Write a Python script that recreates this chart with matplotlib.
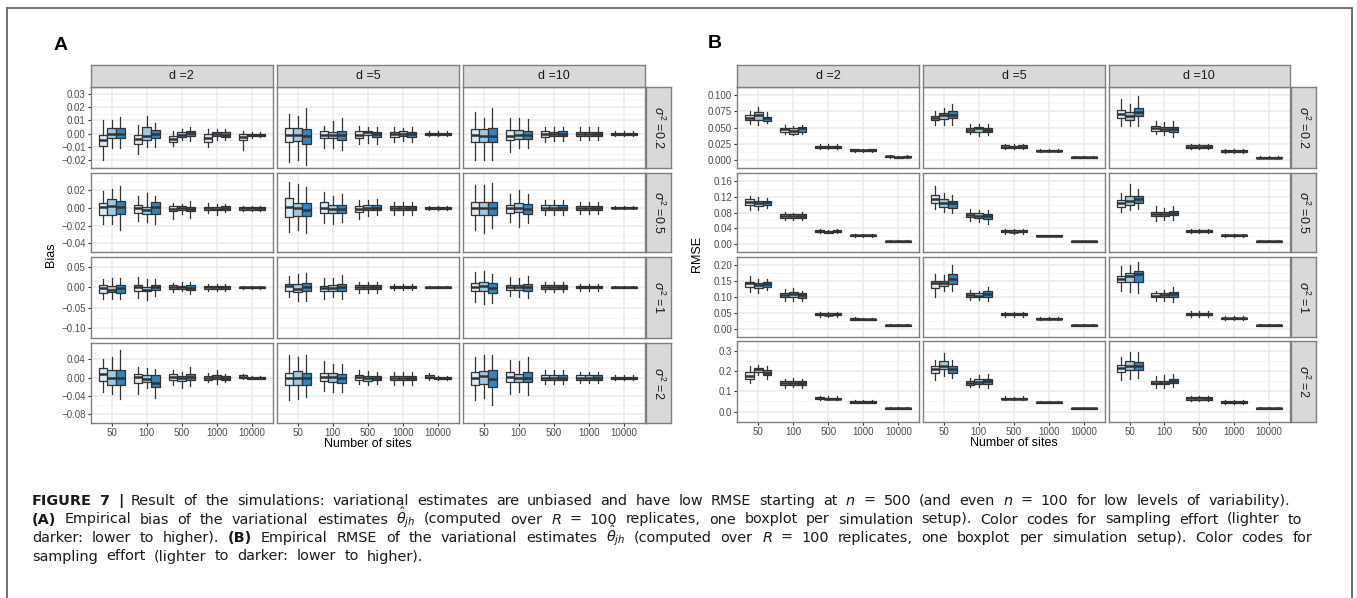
import matplotlib
matplotlib.use("Agg")
import matplotlib.pyplot as plt
from matplotlib.patches import Rectangle
from matplotlib.ticker import FuncFormatter

plt.rcParams['font.family'] = ['Liberation Sans', 'DejaVu Sans']
plt.rcParams['mathtext.fontset'] = 'custom'
plt.rcParams['mathtext.rm'] = 'Liberation Sans'
plt.rcParams['mathtext.it'] = 'Liberation Sans:italic'
plt.rcParams['mathtext.bf'] = 'Liberation Sans:bold'

# ---------------- data ----------------
sites = ['50', '100', '500', '1000', '10000']
dims = ['d =2', 'd =5', 'd =10']
sigmas = [r'$\sigma^2$ =0.2', r'$\sigma^2$ =0.5', r'$\sigma^2$ =1', r'$\sigma^2$ =2']
effort_colors = ['#deebf7', '#9ecae1', '#3182bd']

# each box: (lower whisker, q1, median, q3, upper whisker)
# bias_sX[d][n] -> 3 boxes (sampling effort low -> high)
bias_s02 = [
    [[(-0.020, -0.0093, -0.0047, -0.001, 0.010), (-0.011, -0.0034, -0.0005, 0.0044, 0.010), (-0.0105, -0.003, 0.0, 0.004, 0.0125)],
     [(-0.015, -0.0076, -0.004, -0.001, 0.0066), (-0.010, -0.005, -0.002, 0.005, 0.013), (-0.010, -0.003, 0.0, 0.003, 0.0083)],
     [(-0.0095, -0.006, -0.004, -0.0015, 0.002), (-0.005, -0.0022, -0.001, 0.001, 0.0034), (-0.0056, -0.0017, 0.0005, 0.0022, 0.0047)],
     [(-0.010, -0.0064, -0.003, 0.0, 0.0034), (-0.005, -0.0017, -0.0003, 0.0012, 0.0032), (-0.005, -0.0022, -0.0007, 0.001, 0.0032)],
     [(-0.012, -0.005, -0.0027, -0.0002, 0.0017), (-0.0032, -0.002, -0.001, 0.0, 0.0012), (-0.0027, -0.002, -0.0008, 0.0, 0.0012)]],
    [[(-0.021, -0.0064, -0.001, 0.004, 0.015), (-0.020, -0.0052, -0.0008, 0.004, 0.013), (-0.0235, -0.008, -0.0015, 0.0034, 0.019)],
     [(-0.0105, -0.003, -0.0007, 0.0017, 0.006), (-0.0105, -0.003, -0.001, 0.0015, 0.0095), (-0.0125, -0.005, -0.001, 0.0022, 0.012)],
     [(-0.008, -0.0032, -0.0007, 0.0017, 0.006), (-0.007, -0.0007, 0.001, 0.0022, 0.0054), (-0.0075, -0.0027, -0.0002, 0.0015, 0.0054)],
     [(-0.006, -0.0022, -0.0005, 0.0015, 0.0047), (-0.0055, -0.002, -0.0003, 0.0017, 0.0045), (-0.0062, -0.0024, -0.0005, 0.0015, 0.0047)],
     [(-0.0017, -0.0007, 0.0, 0.0007, 0.0017), (-0.0017, -0.0007, 0.0, 0.0007, 0.0017), (-0.0017, -0.0007, 0.0, 0.0007, 0.0017)]],
    [[(-0.0194, -0.0064, -0.0007, 0.0034, 0.016), (-0.020, -0.0064, -0.002, 0.0034, 0.012), (-0.0194, -0.0064, -0.0015, 0.0042, 0.019)],
     [(-0.0137, -0.0044, -0.0015, 0.003, 0.0115), (-0.0105, -0.004, -0.0007, 0.003, 0.012), (-0.0105, -0.004, -0.0007, 0.0022, 0.011)],
     [(-0.0064, -0.0022, 0.0, 0.0022, 0.0047), (-0.0052, -0.0015, 0.0, 0.0015, 0.0047), (-0.0052, -0.0015, 0.0, 0.0017, 0.0047)],
     [(-0.005, -0.0015, 0.0, 0.0015, 0.0047), (-0.005, -0.0015, 0.0, 0.0015, 0.0047), (-0.005, -0.0015, 0.0, 0.0015, 0.0047)],
     [(-0.0017, -0.0007, 0.0, 0.0007, 0.0017), (-0.0017, -0.0007, 0.0, 0.0007, 0.0017), (-0.0017, -0.0007, 0.0, 0.0007, 0.0017)]],
]
bias_s05 = [
    [[(-0.018, -0.0075, 0.0014, 0.0058, 0.019), (-0.018, -0.0078, 0.002, 0.0098, 0.021), (-0.0247, -0.0064, 0.0014, 0.0075, 0.025)],
     [(-0.015, -0.006, -0.0007, 0.003, 0.013), (-0.0156, -0.0071, -0.002, 0.0014, 0.0166), (-0.018, -0.0064, 0.0014, 0.0064, 0.013)],
     [(-0.012, -0.0037, -0.001, 0.002, 0.0058), (-0.007, -0.002, 0.0003, 0.002, 0.004), (-0.011, -0.0037, -0.001, 0.0014, 0.0075)],
     [(-0.0054, -0.0027, -0.0007, 0.0014, 0.0054), (-0.008, -0.003, -0.001, 0.001, 0.004), (-0.0047, -0.0027, -0.0003, 0.002, 0.0047)],
     [(-0.0037, -0.002, -0.0007, 0.0007, 0.0024), (-0.0037, -0.002, -0.0007, 0.0007, 0.0024), (-0.0037, -0.002, -0.0007, 0.0007, 0.0024)]],
    [[(-0.0275, -0.010, 0.001, 0.011, 0.0285), (-0.025, -0.0095, 0.0, 0.0054, 0.027), (-0.0285, -0.0095, -0.0027, 0.0054, 0.0234)],
     [(-0.0173, -0.0054, 0.0, 0.0064, 0.0176), (-0.018, -0.006, -0.0017, 0.0037, 0.013), (-0.016, -0.0054, -0.001, 0.003, 0.0156)],
     [(-0.0125, -0.005, -0.0017, 0.002, 0.0085), (-0.009, -0.0024, 0.0003, 0.0027, 0.0085), (-0.0075, -0.003, 0.0003, 0.0027, 0.0095)],
     [(-0.0075, -0.0024, 0.0, 0.002, 0.007), (-0.0075, -0.0024, 0.0, 0.002, 0.007), (-0.0075, -0.0024, 0.0, 0.002, 0.007)],
     [(-0.0024, -0.001, 0.0, 0.001, 0.0024), (-0.0024, -0.001, 0.0, 0.001, 0.0024), (-0.0024, -0.001, 0.0, 0.001, 0.0024)]],
    [[(-0.0244, -0.0075, -0.0007, 0.006, 0.026), (-0.0278, -0.0075, -0.0007, 0.006, 0.026), (-0.0227, -0.0075, -0.0007, 0.007, 0.0275)],
     [(-0.016, -0.0058, -0.0007, 0.0034, 0.016), (-0.022, -0.005, 0.0003, 0.005, 0.0203), (-0.0176, -0.0064, -0.0017, 0.0044, 0.016)],
     [(-0.0085, -0.003, 0.0, 0.0027, 0.0085), (-0.0085, -0.003, 0.0, 0.0027, 0.0085), (-0.0085, -0.003, 0.0, 0.0027, 0.0085)],
     [(-0.0064, -0.0024, 0.0, 0.002, 0.007), (-0.0064, -0.0024, 0.0, 0.002, 0.007), (-0.0064, -0.0024, 0.0, 0.002, 0.007)],
     [(-0.0017, -0.0007, 0.0, 0.0007, 0.002), (-0.0017, -0.0007, 0.0, 0.0007, 0.002), (-0.0017, -0.0007, 0.0, 0.0007, 0.002)]],
]
bias_s1 = [
    [[(-0.028, -0.013, -0.0014, 0.0064, 0.0207), (-0.028, -0.0114, -0.0057, 0.0043, 0.024), (-0.028, -0.013, -0.0021, 0.0064, 0.024)],
     [(-0.0257, -0.010, 0.0007, 0.0064, 0.0257), (-0.0307, -0.010, -0.0057, 0.0007, 0.020), (-0.022, -0.0064, 0.0007, 0.005, 0.0207)],
     [(-0.0114, -0.0043, 0.0007, 0.005, 0.010), (-0.010, -0.0043, 0.0, 0.0043, 0.012), (-0.0164, -0.0057, -0.0007, 0.005, 0.0136)],
     [(-0.009, -0.0043, 0.0, 0.0036, 0.0086), (-0.009, -0.0043, 0.0, 0.0036, 0.0086), (-0.009, -0.0043, 0.0, 0.0036, 0.0086)],
     [(-0.003, -0.0014, 0.0, 0.0014, 0.0029), (-0.003, -0.0014, 0.0, 0.0014, 0.0029), (-0.003, -0.0014, 0.0, 0.0014, 0.0029)]],
    [[(-0.024, -0.010, 0.0029, 0.0086, 0.027), (-0.034, -0.0114, -0.0043, 0.0079, 0.0336), (-0.033, -0.0093, 0.0014, 0.0114, 0.035)],
     [(-0.029, -0.0093, -0.0029, 0.0043, 0.024), (-0.024, -0.0079, -0.0007, 0.0064, 0.023), (-0.029, -0.0079, 0.0014, 0.0079, 0.031)],
     [(-0.0129, -0.0043, 0.0, 0.0064, 0.0136), (-0.0129, -0.0043, 0.0, 0.0064, 0.0136), (-0.0129, -0.0043, 0.0, 0.0064, 0.0136)],
     [(-0.0064, -0.0029, 0.0, 0.0036, 0.0079), (-0.0064, -0.0029, 0.0, 0.0036, 0.0079), (-0.0064, -0.0029, 0.0, 0.0036, 0.0079)],
     [(-0.0029, -0.0014, 0.0, 0.0014, 0.0029), (-0.0029, -0.0014, 0.0, 0.0014, 0.0029), (-0.0029, -0.0014, 0.0, 0.0014, 0.0029)]],
    [[(-0.036, -0.010, 0.0007, 0.0114, 0.0386), (-0.040, -0.0079, 0.0043, 0.0136, 0.041), (-0.038, -0.015, -0.0029, 0.010, 0.0336)],
     [(-0.0207, -0.0064, 0.0007, 0.0064, 0.0257), (-0.0236, -0.0064, 0.0014, 0.0064, 0.024), (-0.0257, -0.0079, 0.0007, 0.0079, 0.028)],
     [(-0.0114, -0.0043, 0.0, 0.0057, 0.0136), (-0.0114, -0.0043, 0.0, 0.0057, 0.0136), (-0.0114, -0.0043, 0.0, 0.0057, 0.0136)],
     [(-0.0079, -0.0029, 0.0, 0.0043, 0.0086), (-0.0079, -0.0029, 0.0, 0.0043, 0.0086), (-0.0079, -0.0029, 0.0, 0.0043, 0.0086)],
     [(-0.0021, -0.0007, 0.0, 0.0014, 0.0029), (-0.0021, -0.0007, 0.0, 0.0014, 0.0029), (-0.0021, -0.0007, 0.0, 0.0014, 0.0029)]],
]
bias_s2 = [
    [[(-0.0316, -0.0077, 0.0071, 0.020, 0.0406), (-0.035, -0.0155, -0.0006, 0.0168, 0.0458), (-0.0465, -0.0168, -0.0006, 0.0155, 0.0606)],
     [(-0.036, -0.0123, 0.0006, 0.0071, 0.022), (-0.023, -0.0103, -0.0026, 0.005, 0.020), (-0.0445, -0.0206, -0.011, 0.005, 0.018)],
     [(-0.0155, -0.0045, 0.002, 0.0071, 0.0155), (-0.022, -0.0077, -0.0013, 0.0039, 0.013), (-0.0187, -0.0058, 0.0006, 0.0071, 0.023)],
     [(-0.009, -0.0045, 0.0, 0.0039, 0.0103), (-0.014, -0.0039, 0.0006, 0.0052, 0.0155), (-0.0103, -0.0052, -0.0013, 0.0032, 0.0084)],
     [(-0.0032, -0.0013, 0.002, 0.0045, 0.0071), (-0.0039, -0.0026, -0.0006, 0.0013, 0.0026), (-0.0039, -0.0026, -0.0006, 0.0013, 0.0026)]],
    [[(-0.050, -0.0174, -0.0006, 0.009, 0.049), (-0.0465, -0.0155, 0.0, 0.0142, 0.0458), (-0.0426, -0.0155, -0.0006, 0.0103, 0.049)],
     [(-0.0284, -0.0077, 0.002, 0.009, 0.036), (-0.0316, -0.009, 0.0006, 0.0103, 0.0284), (-0.0316, -0.011, -0.0013, 0.0084, 0.030)],
     [(-0.0142, -0.0058, 0.0006, 0.0052, 0.0155), (-0.0155, -0.0071, -0.0006, 0.0039, 0.0135), (-0.0142, -0.0058, 0.0, 0.0039, 0.0116)],
     [(-0.0155, -0.0058, 0.0, 0.0039, 0.0116), (-0.0155, -0.0058, 0.0, 0.0039, 0.0116), (-0.0155, -0.0058, 0.0, 0.0039, 0.0116)],
     [(-0.0045, -0.0013, 0.002, 0.0052, 0.0103), (-0.0045, -0.0026, -0.0006, 0.0019, 0.0039), (-0.0045, -0.0026, -0.0006, 0.0019, 0.0039)]],
    [[(-0.049, -0.0155, -0.0006, 0.0116, 0.044), (-0.0445, -0.0142, 0.0026, 0.0148, 0.050), (-0.059, -0.0206, -0.0026, 0.0155, 0.050)],
     [(-0.0368, -0.0103, 0.0006, 0.0116, 0.0374), (-0.0316, -0.009, -0.0013, 0.0084, 0.036), (-0.038, -0.0103, -0.0013, 0.0116, 0.044)],
     [(-0.0142, -0.0058, 0.0, 0.0058, 0.0168), (-0.0142, -0.0058, 0.0, 0.0058, 0.0168), (-0.0142, -0.0058, 0.0, 0.0058, 0.0168)],
     [(-0.011, -0.0045, 0.0, 0.0045, 0.013), (-0.011, -0.0045, 0.0, 0.0045, 0.013), (-0.011, -0.0045, 0.0, 0.0045, 0.013)],
     [(-0.0052, -0.0026, -0.0006, 0.0019, 0.0052), (-0.0052, -0.0026, -0.0006, 0.0019, 0.0052), (-0.0052, -0.0026, -0.0006, 0.0019, 0.0052)]],
]

rmse_s02 = [
    [[(0.0558, 0.0625, 0.0656, 0.0688, 0.0754), (0.0545, 0.0625, 0.0688, 0.0746, 0.082), (0.0576, 0.0607, 0.0647, 0.067, 0.0746)],
     [(0.041, 0.0433, 0.0473, 0.050, 0.0536), (0.0384, 0.041, 0.0446, 0.049, 0.052), (0.040, 0.0433, 0.0487, 0.051, 0.0536)],
     [(0.0174, 0.0188, 0.0205, 0.0223, 0.0246), (0.0174, 0.0188, 0.0202, 0.0220, 0.0242), (0.0174, 0.0188, 0.0205, 0.0223, 0.0246)],
     [(0.0129, 0.0143, 0.0152, 0.0165, 0.0174), (0.0129, 0.0143, 0.0150, 0.0163, 0.0174), (0.0129, 0.0143, 0.0152, 0.0165, 0.0174)],
     [(0.004, 0.0045, 0.0058, 0.0071, 0.0085), (0.0031, 0.004, 0.0045, 0.0054, 0.0063), (0.0031, 0.0045, 0.0054, 0.0067, 0.0085)]],
    [[(0.0545, 0.062, 0.065, 0.0679, 0.0754), (0.0536, 0.0634, 0.0688, 0.0723, 0.080), (0.0536, 0.0643, 0.0701, 0.0759, 0.0866)],
     [(0.0397, 0.0429, 0.0464, 0.050, 0.0554), (0.0366, 0.0438, 0.0487, 0.051, 0.0563), (0.039, 0.0429, 0.0464, 0.050, 0.0554)],
     [(0.0165, 0.0188, 0.0210, 0.0232, 0.0254), (0.0165, 0.0185, 0.0200, 0.0222, 0.0245), (0.0165, 0.0188, 0.0210, 0.0232, 0.0254)],
     [(0.0125, 0.0138, 0.0147, 0.0156, 0.0169), (0.0125, 0.0138, 0.0147, 0.0156, 0.0169), (0.0125, 0.0138, 0.0147, 0.0156, 0.0169)],
     [(0.0027, 0.0034, 0.0042, 0.0050, 0.0058), (0.0027, 0.0034, 0.0042, 0.0050, 0.0058), (0.0027, 0.0034, 0.0042, 0.0050, 0.0058)]],
    [[(0.0522, 0.0656, 0.0714, 0.0777, 0.0946), (0.0522, 0.0625, 0.0679, 0.0746, 0.0866), (0.0522, 0.0679, 0.0746, 0.0804, 0.099)],
     [(0.0397, 0.0455, 0.0491, 0.0522, 0.0598), (0.038, 0.0446, 0.0478, 0.0509, 0.0589), (0.0357, 0.0433, 0.0478, 0.0509, 0.0598)],
     [(0.0165, 0.0188, 0.021, 0.0232, 0.0254), (0.0165, 0.0188, 0.021, 0.0232, 0.0254), (0.0165, 0.0188, 0.021, 0.0232, 0.0254)],
     [(0.0116, 0.013, 0.0143, 0.0152, 0.0165), (0.0116, 0.013, 0.0143, 0.0152, 0.0165), (0.0116, 0.013, 0.0143, 0.0152, 0.0165)],
     [(0.0027, 0.0031, 0.004, 0.0054, 0.0058), (0.0027, 0.0031, 0.004, 0.0054, 0.0058), (0.0027, 0.0031, 0.004, 0.0054, 0.0058)]],
]
rmse_s05 = [
    [[(0.0857, 0.0993, 0.106, 0.113, 0.121), (0.0857, 0.096, 0.1027, 0.1095, 0.1177), (0.0905, 0.0993, 0.106, 0.1095, 0.1163)],
     [(0.062, 0.0673, 0.0721, 0.0769, 0.081), (0.060, 0.0660, 0.0700, 0.0750, 0.080), (0.062, 0.0673, 0.0721, 0.0769, 0.081)],
     [(0.0279, 0.030, 0.0327, 0.0354, 0.0381), (0.0279, 0.029, 0.0310, 0.0340, 0.0370), (0.0279, 0.030, 0.0327, 0.0354, 0.0381)],
     [(0.019, 0.0204, 0.0224, 0.0245, 0.0259), (0.019, 0.0204, 0.0224, 0.0245, 0.0259), (0.019, 0.0204, 0.0224, 0.0245, 0.0259)],
     [(0.0048, 0.0061, 0.0075, 0.0088, 0.0102), (0.0048, 0.0061, 0.0075, 0.0088, 0.0102), (0.0048, 0.0061, 0.0075, 0.0088, 0.0102)]],
    [[(0.089, 0.1027, 0.114, 0.123, 0.1456), (0.0823, 0.0939, 0.1048, 0.113, 0.128), (0.079, 0.0925, 0.1027, 0.1095, 0.125)],
     [(0.0585, 0.0687, 0.0748, 0.080, 0.089), (0.055, 0.0667, 0.072, 0.079, 0.0857), (0.0517, 0.064, 0.070, 0.0755, 0.0857)],
     [(0.0265, 0.030, 0.0327, 0.0367, 0.0394), (0.0265, 0.030, 0.0320, 0.0350, 0.0380), (0.0265, 0.030, 0.0327, 0.0367, 0.0394)],
     [(0.0197, 0.0211, 0.0218, 0.0231, 0.0245), (0.0197, 0.0211, 0.0218, 0.0231, 0.0245), (0.0197, 0.0211, 0.0218, 0.0231, 0.0245)],
     [(0.0061, 0.0068, 0.0075, 0.0082, 0.0088), (0.0061, 0.0068, 0.0075, 0.0082, 0.0088), (0.0061, 0.0068, 0.0075, 0.0082, 0.0088)]],
    [[(0.0803, 0.0946, 0.1027, 0.1116, 0.130), (0.087, 0.0993, 0.1095, 0.121, 0.1524), (0.089, 0.1027, 0.113, 0.121, 0.1388)],
     [(0.0585, 0.0707, 0.0755, 0.0803, 0.0959), (0.0605, 0.0707, 0.0755, 0.0803, 0.0925), (0.0619, 0.0735, 0.079, 0.0844, 0.0959)],
     [(0.0286, 0.0313, 0.034, 0.0367, 0.0394), (0.0286, 0.0313, 0.034, 0.0367, 0.0394), (0.0286, 0.0313, 0.034, 0.0367, 0.0394)],
     [(0.0184, 0.0204, 0.0224, 0.0245, 0.0272), (0.0184, 0.0204, 0.0224, 0.0245, 0.0272), (0.0184, 0.0204, 0.0224, 0.0245, 0.0272)],
     [(0.0054, 0.0068, 0.0082, 0.0095, 0.0109), (0.0054, 0.0068, 0.0082, 0.0095, 0.0109), (0.0054, 0.0068, 0.0082, 0.0095, 0.0109)]],
]
rmse_s1 = [
    [[(0.116, 0.132, 0.143, 0.148, 0.166), (0.111, 0.129, 0.136, 0.144, 0.156), (0.121, 0.132, 0.141, 0.1455, 0.156)],
     [(0.0864, 0.100, 0.1064, 0.111, 0.1245), (0.0864, 0.100, 0.109, 0.1155, 0.129), (0.089, 0.098, 0.1064, 0.112, 0.118)],
     [(0.0391, 0.0427, 0.0464, 0.050, 0.0545), (0.0391, 0.0427, 0.0455, 0.049, 0.0535), (0.0391, 0.0427, 0.0464, 0.050, 0.0545)],
     [(0.0273, 0.029, 0.0318, 0.0345, 0.0382), (0.0273, 0.029, 0.0310, 0.0330, 0.0360), (0.0273, 0.029, 0.0310, 0.0330, 0.0360)],
     [(0.0091, 0.0109, 0.0118, 0.0136, 0.0155), (0.0091, 0.0109, 0.0118, 0.0136, 0.0155), (0.0091, 0.0109, 0.0118, 0.0136, 0.0155)]],
    [[(0.100, 0.129, 0.1427, 0.150, 0.170), (0.118, 0.1345, 0.1427, 0.150, 0.168), (0.118, 0.141, 0.156, 0.1727, 0.200)],
     [(0.0909, 0.100, 0.1064, 0.111, 0.1227), (0.0909, 0.100, 0.1045, 0.111, 0.118), (0.0864, 0.100, 0.109, 0.118, 0.132)],
     [(0.0382, 0.0427, 0.0464, 0.050, 0.0545), (0.0382, 0.0427, 0.0464, 0.050, 0.0545), (0.0382, 0.0427, 0.0464, 0.050, 0.0545)],
     [(0.0282, 0.0309, 0.0318, 0.0364, 0.039), (0.0282, 0.0309, 0.0318, 0.0364, 0.039), (0.0282, 0.0309, 0.0318, 0.0364, 0.039)],
     [(0.0100, 0.0109, 0.0127, 0.0145, 0.0155), (0.0100, 0.0109, 0.0127, 0.0145, 0.0155), (0.0100, 0.0109, 0.0127, 0.0145, 0.0155)]],
    [[(0.12, 0.1455, 0.156, 0.1636, 0.1955), (0.1155, 0.1455, 0.1655, 0.1745, 0.200), (0.111, 0.148, 0.171, 0.180, 0.209)],
     [(0.0864, 0.100, 0.1045, 0.111, 0.120), (0.0891, 0.100, 0.1064, 0.1118, 0.1227), (0.0836, 0.100, 0.109, 0.1164, 0.132)],
     [(0.0382, 0.0436, 0.048, 0.0518, 0.0564), (0.0382, 0.0436, 0.048, 0.0518, 0.0564), (0.0382, 0.0436, 0.048, 0.0518, 0.0564)],
     [(0.0273, 0.0309, 0.0336, 0.0364, 0.04), (0.0273, 0.0309, 0.0336, 0.0364, 0.04), (0.0273, 0.0309, 0.0336, 0.0364, 0.04)],
     [(0.0091, 0.0109, 0.0127, 0.0136, 0.0155), (0.0091, 0.0109, 0.0127, 0.0136, 0.0155), (0.0091, 0.0109, 0.0127, 0.0136, 0.0155)]],
]
rmse_s2 = [
    [[(0.14, 0.16, 0.1766, 0.196, 0.227), (0.179, 0.196, 0.208, 0.214, 0.231), (0.162, 0.179, 0.192, 0.205, 0.225)],
     [(0.114, 0.131, 0.140, 0.149, 0.16), (0.12, 0.131, 0.140, 0.149, 0.166), (0.117, 0.131, 0.140, 0.149, 0.16)],
     [(0.056, 0.061, 0.066, 0.071, 0.077), (0.056, 0.060, 0.064, 0.069, 0.075), (0.056, 0.060, 0.064, 0.069, 0.075)],
     [(0.04, 0.044, 0.048, 0.052, 0.056), (0.04, 0.044, 0.047, 0.051, 0.055), (0.04, 0.044, 0.048, 0.052, 0.056)],
     [(0.0104, 0.013, 0.0156, 0.018, 0.0208), (0.0104, 0.013, 0.0156, 0.018, 0.0208), (0.0104, 0.013, 0.0156, 0.018, 0.0208)]],
    [[(0.157, 0.192, 0.208, 0.225, 0.253), (0.175, 0.212, 0.227, 0.248, 0.29), (0.166, 0.192, 0.209, 0.225, 0.253)],
     [(0.121, 0.131, 0.140, 0.149, 0.166), (0.121, 0.136, 0.1468, 0.16, 0.179), (0.114, 0.134, 0.149, 0.16, 0.186)],
     [(0.056, 0.06, 0.064, 0.068, 0.075), (0.056, 0.06, 0.063, 0.067, 0.073), (0.056, 0.06, 0.064, 0.068, 0.075)],
     [(0.04, 0.043, 0.046, 0.049, 0.052), (0.04, 0.043, 0.046, 0.049, 0.052), (0.04, 0.043, 0.046, 0.049, 0.052)],
     [(0.0117, 0.0143, 0.0156, 0.0182, 0.0195), (0.0117, 0.0143, 0.0156, 0.0182, 0.0195), (0.0117, 0.0143, 0.0156, 0.0182, 0.0195)]],
    [[(0.157, 0.196, 0.214, 0.231, 0.27), (0.162, 0.205, 0.227, 0.248, 0.296), (0.166, 0.205, 0.225, 0.244, 0.296)],
     [(0.118, 0.134, 0.143, 0.153, 0.177), (0.114, 0.134, 0.143, 0.153, 0.179), (0.123, 0.14, 0.149, 0.16, 0.186)],
     [(0.052, 0.058, 0.065, 0.071, 0.078), (0.052, 0.058, 0.065, 0.071, 0.078), (0.052, 0.058, 0.065, 0.071, 0.078)],
     [(0.036, 0.0416, 0.047, 0.052, 0.056), (0.036, 0.0416, 0.047, 0.052, 0.056), (0.036, 0.0416, 0.047, 0.052, 0.056)],
     [(0.0117, 0.0143, 0.0169, 0.0182, 0.0221), (0.0117, 0.0143, 0.0169, 0.0182, 0.0221), (0.0117, 0.0143, 0.0169, 0.0182, 0.0221)]],
]

bias_rows = [bias_s02, bias_s05, bias_s1, bias_s2]
rmse_rows = [rmse_s02, rmse_s05, rmse_s1, rmse_s2]

bias_ticks = [[-0.02, -0.01, 0.0, 0.01, 0.02, 0.03], [-0.04, -0.02, 0.0, 0.02],
              [-0.10, -0.05, 0.0, 0.05], [-0.08, -0.04, 0.0, 0.04]]
bias_lims = [(-0.0259, 0.0337), (-0.0425, 0.0395), (-0.115, 0.061), (-0.0815, 0.076)]
bias_fmt = ['%.2f', '%.2f', '%.2f', '%.2f']

rmse_ticks = [[0.0, 0.025, 0.05, 0.075, 0.1], [0.0, 0.04, 0.08, 0.12, 0.16],
              [0.0, 0.05, 0.10, 0.15, 0.20], [0.0, 0.1, 0.2, 0.3]]
rmse_lims = [(-0.0013, 0.1066), (-0.0007, 0.162), (-0.0016, 0.215), (-0.003, 0.313)]
rmse_fmt = ['%.3f', '%.2f', '%.2f', '%.1f']

# caption; words starting with ** are bold
caption_lines = [
    r'**FIGURE **7 **| Result of the simulations: variational estimates are unbiased and have low RMSE starting at $n$ = 500 (and even $n$ = 100 for low levels of variability).',
    r'**(A) Empirical bias of the variational estimates $\hat{\theta}_{jh}$ (computed over $R$ = 100 replicates, one boxplot per simulation setup). Color codes for sampling effort (lighter to',
    r'darker: lower to higher). **(B) Empirical RMSE of the variational estimates $\hat{\theta}_{jh}$ (computed over $R$ = 100 replicates, one boxplot per simulation setup). Color codes for',
    'sampling effort (lighter to darker: lower to higher).',
]
caption_right = [1290, 1302, 1312, None]

# ---------------- layout (pixels) ----------------
W, H = 1357, 598
fig = plt.figure(figsize=(W / 100, H / 100), dpi=100)

def px_axes(x0, y0, x1, y1, **kw):
    return fig.add_axes([x0 / W, 1 - y1 / H, (x1 - x0) / W, (y1 - y0) / H], **kw)

def fx(x):
    return x / W

def fy(y):
    return 1 - y / H

EDGE = '#333333'
BORDER = '#7f7f7f'

def make_fmt(f):
    def _f(v, pos):
        if abs(v) < 1e-12:
            v = 0.0
        return (f % v).replace('-', '\u2212')
    return FuncFormatter(_f)

def strip(x0, y0, x1, y1, label, rot=0):
    sa = px_axes(x0, y0, x1, y1)
    sa.set_facecolor('#d9d9d9')
    sa.set_xticks([])
    sa.set_yticks([])
    for s in sa.spines.values():
        s.set_color(BORDER)
        s.set_linewidth(1.0)
    sa.text(0.5, 0.5, label, transform=sa.transAxes, ha='center', va='center',
            fontsize=9, color='#1a1a1a', rotation=rot)

def draw_panel(rows, cols_x, rows_y, ticks, lims, fmts, right_strip_x, ylabel, ylabel_x, xtitle_y, letter, letter_xy):
    for r, (y0, y1) in enumerate(rows_y):
        for c, (x0, x1) in enumerate(cols_x):
            ax = px_axes(x0, y0, x1, y1)
            ax.set_xlim(0.4, 5.6)
            ax.set_ylim(*lims[r])
            ax.set_axisbelow(True)
            step = ticks[r][1] - ticks[r][0]
            minors = [t - step / 2 for t in ticks[r]] + [ticks[r][-1] + step / 2]
            ax.set_yticks(ticks[r])
            ax.set_yticks(minors, minor=True)
            ax.set_xticks(range(1, 6))
            ax.yaxis.set_major_formatter(make_fmt(fmts[r]))
            ax.grid(which='major', color='#ebebeb', linewidth=1.1)
            ax.grid(which='minor', axis='y', color='#f4f4f4', linewidth=0.6)
            ax.tick_params(which='minor', length=0)
            ax.tick_params(which='major', color=EDGE, width=0.8, length=2.2,
                           labelsize=7, labelcolor='#4d4d4d', pad=1.5)
            if c > 0:
                ax.tick_params(axis='y', which='major', length=0, labelleft=False)
            if r < len(rows_y) - 1:
                ax.tick_params(axis='x', which='major', length=0, labelbottom=False)
            else:
                ax.set_xticklabels(sites)
            for s in ax.spines.values():
                s.set_color(BORDER)
                s.set_linewidth(1.0)
            stats = []
            pos = []
            cols = []
            for i in range(5):
                for k in range(3):
                    lo, q1, med, q3, hi = rows[r][c][i][k]
                    stats.append(dict(whislo=lo, q1=q1, med=med, q3=q3, whishi=hi))
                    pos.append(i + 1 + (k - 1) * 0.25)
                    cols.append(effort_colors[k])
            out = ax.bxp(stats, positions=pos, widths=0.25, patch_artist=True,
                         showfliers=False, showcaps=False, manage_ticks=False,
                         boxprops=dict(edgecolor=EDGE, linewidth=0.9),
                         whiskerprops=dict(color=EDGE, linewidth=0.9),
                         medianprops=dict(color=EDGE, linewidth=1.8))
            for patch, col in zip(out['boxes'], cols):
                patch.set_facecolor(col)
            if r == 0:
                strip(x0, 65, x1, 87.3, dims[c])
        strip(right_strip_x[0], y0, right_strip_x[1], y1, sigmas[r], rot=-90)

    xm = (cols_x[0][0] + cols_x[-1][1]) / 2
    fig.text(fx(xm), fy(xtitle_y), 'Number of sites', ha='center', va='center', fontsize=9)
    ym = (rows_y[0][0] + rows_y[-1][1]) / 2
    fig.text(fx(ylabel_x), fy(ym), ylabel, ha='center', va='center', fontsize=9, rotation=90)
    fig.text(fx(letter_xy[0]), fy(letter_xy[1]), letter, ha='center', va='center',
             fontsize=14, fontweight='bold')

cols_A = [(90.7, 272.7), (276.7, 459.0), (462.7, 645.0)]
rows_A = [(87.0, 168.3), (172.7, 252.3), (256.7, 338.3), (342.7, 423.3)]
cols_B = [(737.3, 919.3), (922.7, 1105.0), (1108.7, 1290.0)]
rows_B = [(87.0, 168.3), (172.7, 252.3), (256.7, 337.3), (340.7, 421.7)]

draw_panel(bias_rows, cols_A, rows_A, bias_ticks, bias_lims, bias_fmt, (646, 671),
           'Bias', 51, 444, 'A', (61, 45))
draw_panel(rmse_rows, cols_B, rows_B, rmse_ticks, rmse_lims, rmse_fmt, (1291, 1316),
           'RMSE', 697, 443, 'B', (715, 43))

# outer frame
fig.patches.append(Rectangle((fx(7), fy(610)), fx(1352 - 7), (610 - 8) / H,
                             transform=fig.transFigure, fill=False,
                             edgecolor='#666666', linewidth=1.3))

# caption: one text per word, word gaps widened so each line ends where it does in the figure
renderer = fig.canvas.get_renderer()
cap_kw = dict(ha='left', va='baseline', fontsize=10.4, color='#1a1a1a',
              family='DejaVu Sans', math_fontfamily='dejavusans')

baselines = [505, 523.5, 542, 560.5]
gaps = []
lines = []
for line, b, right in zip(caption_lines, baselines, caption_right):
    words = []
    for tok in line.split(' '):
        bold = tok.startswith('**')
        t = fig.text(0, fy(b), tok[2:] if bold else tok,
                     fontweight='bold' if bold else 'normal', **cap_kw)
        words.append((t, t.get_window_extent(renderer).width))
    total = sum(w for _, w in words)
    if right is not None:
        gap = (right - 32 - total) / (len(words) - 1)
        gaps.append(gap)
    else:
        gap = None
    lines.append((words, gap))
mean_gap = sum(gaps) / len(gaps)
for words, gap in lines:
    g = mean_gap if gap is None else gap
    x = 32
    for t, w in words:
        t.set_x(fx(x))
        x += w + g

fig.savefig('out.png', dpi=100)
